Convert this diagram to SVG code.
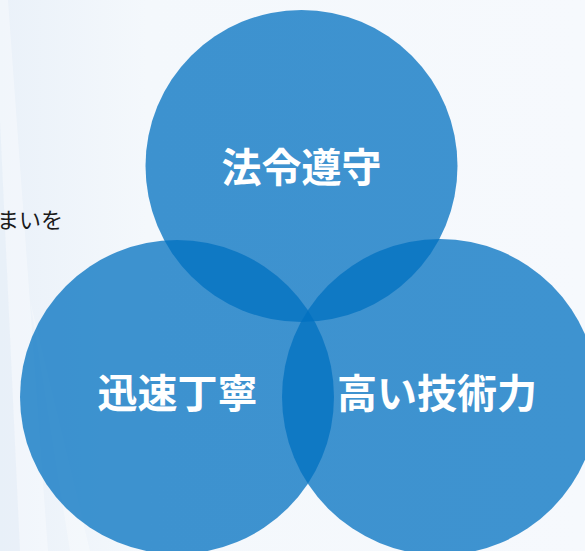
<svg xmlns="http://www.w3.org/2000/svg" width="585" height="551" viewBox="0 0 585 551">
  <defs>
    <linearGradient id="bg" x1="0" y1="0" x2="1" y2="0">
      <stop offset="0" stop-color="#eaf1f9"/>
      <stop offset="0.25" stop-color="#f4f8fc"/>
      <stop offset="1" stop-color="#f6f9fd"/>
    </linearGradient>
    <style>
      .ring { fill: #0070c0; fill-opacity: 0.75; }
      .label { font-family: "Noto Sans CJK JP", "Noto Sans CJK SC", sans-serif; font-weight: bold; font-size: 40px; fill: #ffffff; text-anchor: middle; }
      .note { font-family: "Noto Sans CJK JP", "Noto Sans CJK SC", sans-serif; font-size: 22px; fill: #1a1a1a; text-anchor: end; }
    </style>
  </defs>
  <rect x="0" y="0" width="585" height="551" fill="url(#bg)"/>
  <polygon points="0,0 8,0 48,551 0,551" fill="#ffffff" fill-opacity="0.35"/>
  <polygon points="0,120 20,551 0,551" fill="#dce8f5" fill-opacity="0.4"/>
  <polygon points="30,300 70,551 90,551" fill="#ffffff" fill-opacity="0.3"/>

  <text class="note" x="63" y="228">まいを</text>

  <g id="connectors"/>

  <g id="node-compliance">
    <circle class="ring" cx="301.5" cy="166" r="156"/>
    <text class="label" x="301.5" y="182">法令遵守</text>
  </g>
  <g id="node-speed">
    <circle class="ring" cx="177" cy="397" r="157"/>
    <text class="label" x="177.5" y="408">迅速丁寧</text>
  </g>
  <g id="node-tech">
    <circle class="ring" cx="440" cy="397" r="158"/>
    <text class="label" x="437" y="408">高い技術力</text>
  </g>
</svg>
